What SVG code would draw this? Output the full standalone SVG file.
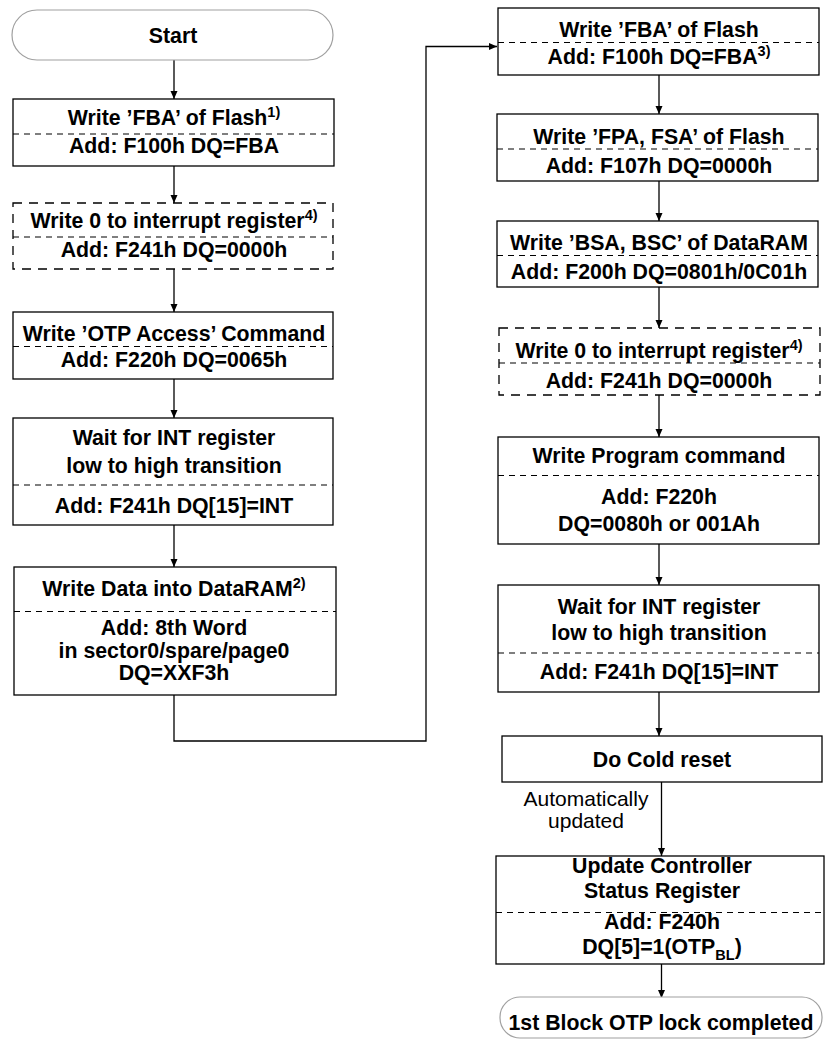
<svg xmlns="http://www.w3.org/2000/svg" width="827" height="1040" viewBox="0 0 827 1040">
<defs>
<marker id="ah" markerWidth="10" markerHeight="10" refX="9" refY="5" orient="auto" markerUnits="userSpaceOnUse">
<path d="M1,1.5 L9,5 L1,8.5 Z" fill="#000"/>
</marker>
<style>
.box{fill:#fff;stroke:#000;stroke-width:1.3}
.dbox{fill:#fff;stroke:#000;stroke-width:1.3;stroke-dasharray:9 7}
.term{fill:#fff;stroke:#a0a0a0;stroke-width:1.2}
.div{stroke:#000;stroke-width:1.1;stroke-dasharray:6 5;fill:none}
.t{font-family:"Liberation Sans",Arial,sans-serif;font-weight:bold;font-size:21.3px;text-anchor:middle;fill:#000}
.n{font-family:"Liberation Sans",Arial,sans-serif;font-size:21px;text-anchor:middle;fill:#000}
.sup{font-size:14.5px}
.conn{stroke:#000;stroke-width:1.3;fill:none}
</style>
</defs>
<rect width="827" height="1040" fill="#fff"/>

<g id="connectors">
<line class="conn" x1="174" y1="60" x2="174" y2="99" marker-end="url(#ah)"/>
<line class="conn" x1="174" y1="166" x2="174" y2="203" marker-end="url(#ah)"/>
<line class="conn" x1="174" y1="269" x2="174" y2="312" marker-end="url(#ah)"/>
<line class="conn" x1="174" y1="379" x2="174" y2="418" marker-end="url(#ah)"/>
<line class="conn" x1="174" y1="525" x2="174" y2="567" marker-end="url(#ah)"/>
<polyline class="conn" points="174,695 174,741 426,741 426,46.5 497,46.5" marker-end="url(#ah)"/>
<line class="conn" x1="659" y1="75" x2="659" y2="114" marker-end="url(#ah)"/>
<line class="conn" x1="659" y1="181" x2="659" y2="221" marker-end="url(#ah)"/>
<line class="conn" x1="659" y1="287" x2="659" y2="328" marker-end="url(#ah)"/>
<line class="conn" x1="659" y1="395" x2="659" y2="437" marker-end="url(#ah)"/>
<line class="conn" x1="659" y1="544" x2="659" y2="585" marker-end="url(#ah)"/>
<line class="conn" x1="659" y1="692" x2="659" y2="736" marker-end="url(#ah)"/>
<line class="conn" x1="661.5" y1="782" x2="661.5" y2="856" marker-end="url(#ah)"/>
<text class="n" x="586" y="806">Automatically</text>
<text class="n" x="586" y="828">updated</text>
<line class="conn" x1="661.5" y1="964" x2="661.5" y2="998" marker-end="url(#ah)"/>
</g>

<g id="start">
<rect class="term" x="12" y="10" width="321" height="50" rx="25" ry="25"/>
<text class="t" x="173" y="43">Start</text>
</g>

<g id="l1">
<rect class="box" x="13" y="99" width="321" height="67"/>
<line class="div" x1="13" y1="134" x2="334" y2="134"/>
<text class="t" x="174" y="125">Write ’FBA’ of Flash<tspan class="sup" dy="-8">1)</tspan></text>
<text class="t" x="174" y="153">Add: F100h DQ=FBA</text>
</g>

<g id="l2">
<rect class="dbox" x="13" y="203" width="320" height="66"/>
<line class="div" x1="13" y1="237" x2="333" y2="237"/>
<text class="t" x="174" y="228">Write 0 to interrupt register<tspan class="sup" dy="-8">4)</tspan></text>
<text class="t" x="174" y="257">Add: F241h DQ=0000h</text>
</g>

<g id="l3">
<rect class="box" x="13" y="312" width="320" height="67"/>
<line class="div" x1="13" y1="346.5" x2="333" y2="346.5"/>
<text class="t" x="174" y="341">Write ’OTP Access’ Command</text>
<text class="t" x="174" y="367">Add: F220h DQ=0065h</text>
</g>

<g id="l4">
<rect class="box" x="13" y="418" width="320" height="107"/>
<line class="div" x1="13" y1="485" x2="333" y2="485"/>
<text class="t" x="174" y="445">Wait for INT register</text>
<text class="t" x="174" y="473">low to high transition</text>
<text class="t" x="174" y="513">Add: F241h DQ[15]=INT</text>
</g>

<g id="l5">
<rect class="box" x="14" y="567" width="322" height="128"/>
<line class="div" x1="14" y1="611.5" x2="336" y2="611.5"/>
<text class="t" x="174" y="596">Write Data into DataRAM<tspan class="sup" dy="-8">2)</tspan></text>
<text class="t" x="174" y="635">Add: 8th Word</text>
<text class="t" x="174" y="658">in sector0/spare/page0</text>
<text class="t" x="174" y="680">DQ=XXF3h</text>
</g>

<g id="r1">
<rect class="box" x="498" y="8" width="321" height="67"/>
<line class="div" x1="498" y1="42.5" x2="819" y2="42.5"/>
<text class="t" x="659" y="37">Write ’FBA’ of Flash</text>
<text class="t" x="659" y="64">Add: F100h DQ=FBA<tspan class="sup" dy="-8">3)</tspan></text>
</g>

<g id="r2">
<rect class="box" x="497" y="114" width="321" height="67"/>
<line class="div" x1="497" y1="149" x2="818" y2="149"/>
<text class="t" x="659" y="144">Write ’FPA, FSA’ of Flash</text>
<text class="t" x="659" y="173">Add: F107h DQ=0000h</text>
</g>

<g id="r3">
<rect class="box" x="497" y="221" width="321" height="66"/>
<line class="div" x1="497" y1="255.5" x2="818" y2="255.5"/>
<text class="t" x="659" y="250">Write ’BSA, BSC’ of DataRAM</text>
<text class="t" x="659" y="279">Add: F200h DQ=0801h/0C01h</text>
</g>

<g id="r4">
<rect class="dbox" x="499" y="328" width="321" height="67"/>
<line class="div" x1="499" y1="363" x2="820" y2="363"/>
<text class="t" x="659" y="358">Write 0 to interrupt register<tspan class="sup" dy="-8">4)</tspan></text>
<text class="t" x="659" y="388">Add: F241h DQ=0000h</text>
</g>

<g id="r5">
<rect class="box" x="498" y="437" width="321" height="107"/>
<line class="div" x1="498" y1="475.5" x2="819" y2="475.5"/>
<text class="t" x="659" y="463">Write Program command</text>
<text class="t" x="659" y="504">Add: F220h</text>
<text class="t" x="659" y="531">DQ=0080h or 001Ah</text>
</g>

<g id="r6">
<rect class="box" x="498" y="585" width="321" height="107"/>
<line class="div" x1="498" y1="653" x2="819" y2="653"/>
<text class="t" x="659" y="614">Wait for INT register</text>
<text class="t" x="659" y="640">low to high transition</text>
<text class="t" x="659" y="679">Add: F241h DQ[15]=INT</text>
</g>

<g id="r7">
<rect class="box" x="502" y="736" width="320" height="46"/>
<text class="t" x="662" y="767">Do Cold reset</text>
</g>

<g id="r8">
<rect class="box" x="496" y="856" width="328" height="108"/>
<line class="div" x1="496" y1="912.5" x2="824" y2="912.5"/>
<text class="t" x="662" y="873">Update Controller</text>
<text class="t" x="662" y="898">Status Register</text>
<text class="t" x="662" y="929">Add: F240h</text>
<text class="t" x="662" y="954">DQ[5]=1(OTP<tspan class="sup" dy="6">BL</tspan><tspan dy="-6">)</tspan></text>
</g>

<g id="end">
<rect class="term" x="500" y="997" width="322" height="41" rx="20" ry="20"/>
<text class="t" x="661" y="1030">1st Block OTP lock completed</text>
</g>
</svg>
